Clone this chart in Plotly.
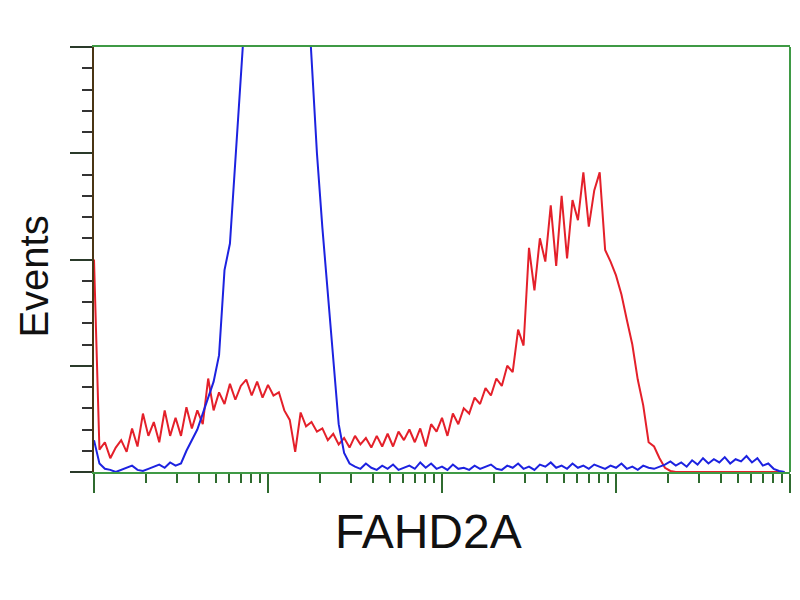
import plotly.graph_objects as go

# === Histogram data: 128 log channels (0..1023 step 8), 4 decades ===
channels = list(range(0, 1024, 8))

# isotype control (blue)
control_counts = [
    30, 8, 3, 2, 0, 2, 4, 6, 2, 1,
    3, 5, 7, 4, 9, 6, 8, 20, 30, 40,
    55, 70, 85, 110, 190, 215, 290, 360, 450, 600,
    700, 720, 740, 760, 750, 730, 720, 690, 600, 480,
    390, 300, 230, 170, 110, 45, 18, 8, 5, 3,
    8, 4, 2, 6, 3, 7, 2, 4, 6, 3,
    9, 4, 8, 3, 5, 2, 7, 3, 4, 2,
    6, 3, 5, 7, 3, 2, 6, 4, 8, 3,
    5, 2, 7, 5, 9, 4, 6, 3, 8, 4,
    6, 3, 7, 5, 3, 6, 4, 8, 3, 5,
    2, 6, 4, 3, 5, 7, 10, 6, 9, 5,
    11, 7, 13, 8, 12, 9, 14, 8, 12, 10,
    15, 9, 13, 6, 8, 3, 1, 0,
]

# FAHD2A transfected (red)
fahd2a_counts = [
    200, 21, 28, 13, 23, 30, 19, 41, 24, 55,
    34, 47, 28, 58, 34, 51, 34, 61, 41, 58,
    45, 88, 58, 75, 64, 83, 68, 81, 87, 72,
    85, 70, 82, 72, 75, 58, 49, 19, 56, 43,
    47, 38, 41, 30, 36, 26, 32, 23, 34, 26,
    32, 23, 34, 24, 36, 24, 38, 30, 40, 28,
    41, 24, 45, 38, 51, 34, 55, 45, 60, 55,
    70, 64, 79, 72, 88, 81, 100, 94, 134, 119,
    211, 171, 220, 198, 251, 194, 260, 201, 256, 237,
    282, 231, 265, 282, 209, 198, 185, 167, 143, 120,
    87, 63, 28, 24, 13, 4, 1, 0, 0, 0,
    0, 0, 0, 0, 0, 0, 0, 0, 0, 0,
    0, 0, 0, 0, 0, 0, 0, 0,
]

fluorescence = [10 ** (c / 256) for c in channels]

GREEN = "#3f9a45"
AXIS_BROWN = "#4a3514"

fig = go.Figure()

fig.add_trace(go.Scatter(
    x=fluorescence, y=fahd2a_counts,
    mode="lines", line=dict(color="#e4202a", width=2),
    hoverinfo="skip", showlegend=False,
))
fig.add_trace(go.Scatter(
    x=fluorescence, y=control_counts,
    mode="lines", line=dict(color="#1c22e0", width=2),
    hoverinfo="skip", showlegend=False,
))

# page body has an 8px margin, so figure is 792x592 and offsets are adjusted
fig.update_layout(
    width=792, height=592,
    margin=dict(l=86, r=10, t=39, b=128),
    paper_bgcolor="white", plot_bgcolor="white",
    font=dict(family="Liberation Sans, Arial, sans-serif", color="#111111"),
    xaxis=dict(
        type="log", range=[0, 4], dtick=1,
        showgrid=False, zeroline=False, showticklabels=False,
        showline=True, linecolor=GREEN, linewidth=2, mirror=True,
        ticks="outside", ticklen=19, tickwidth=2, tickcolor="#2f6b2f",
        minor=dict(ticks="outside", ticklen=9, tickwidth=2,
                   tickcolor="#2f6b2f", dtick="D1", showgrid=False),
    ),
    yaxis=dict(
        range=[0, 400], dtick=100,
        showgrid=False, zeroline=False, showticklabels=False,
        showline=True, linecolor=AXIS_BROWN, linewidth=2,
        ticks="outside", ticklen=22, tickwidth=2, tickcolor="#2a3a2a",
        minor=dict(ticks="outside", ticklen=10, tickwidth=2,
                   tickcolor="#333333", dtick=20, showgrid=False),
    ),
    shapes=[
        dict(type="line", xref="paper", yref="paper",
             x0=1, x1=1, y0=0, y1=1, line=dict(color=GREEN, width=2)),
    ],
    annotations=[
        dict(text="Events", xref="paper", yref="paper",
             x=-0.0855, y=0.461, textangle=-90, showarrow=False,
             font=dict(size=40), xanchor="center", yanchor="middle"),
        dict(text="FAHD2A", xref="paper", yref="paper",
             x=0.481, y=-0.139, showarrow=False,
             font=dict(size=48), xanchor="center", yanchor="middle"),
    ],
)

fig.write_html("out.html")
